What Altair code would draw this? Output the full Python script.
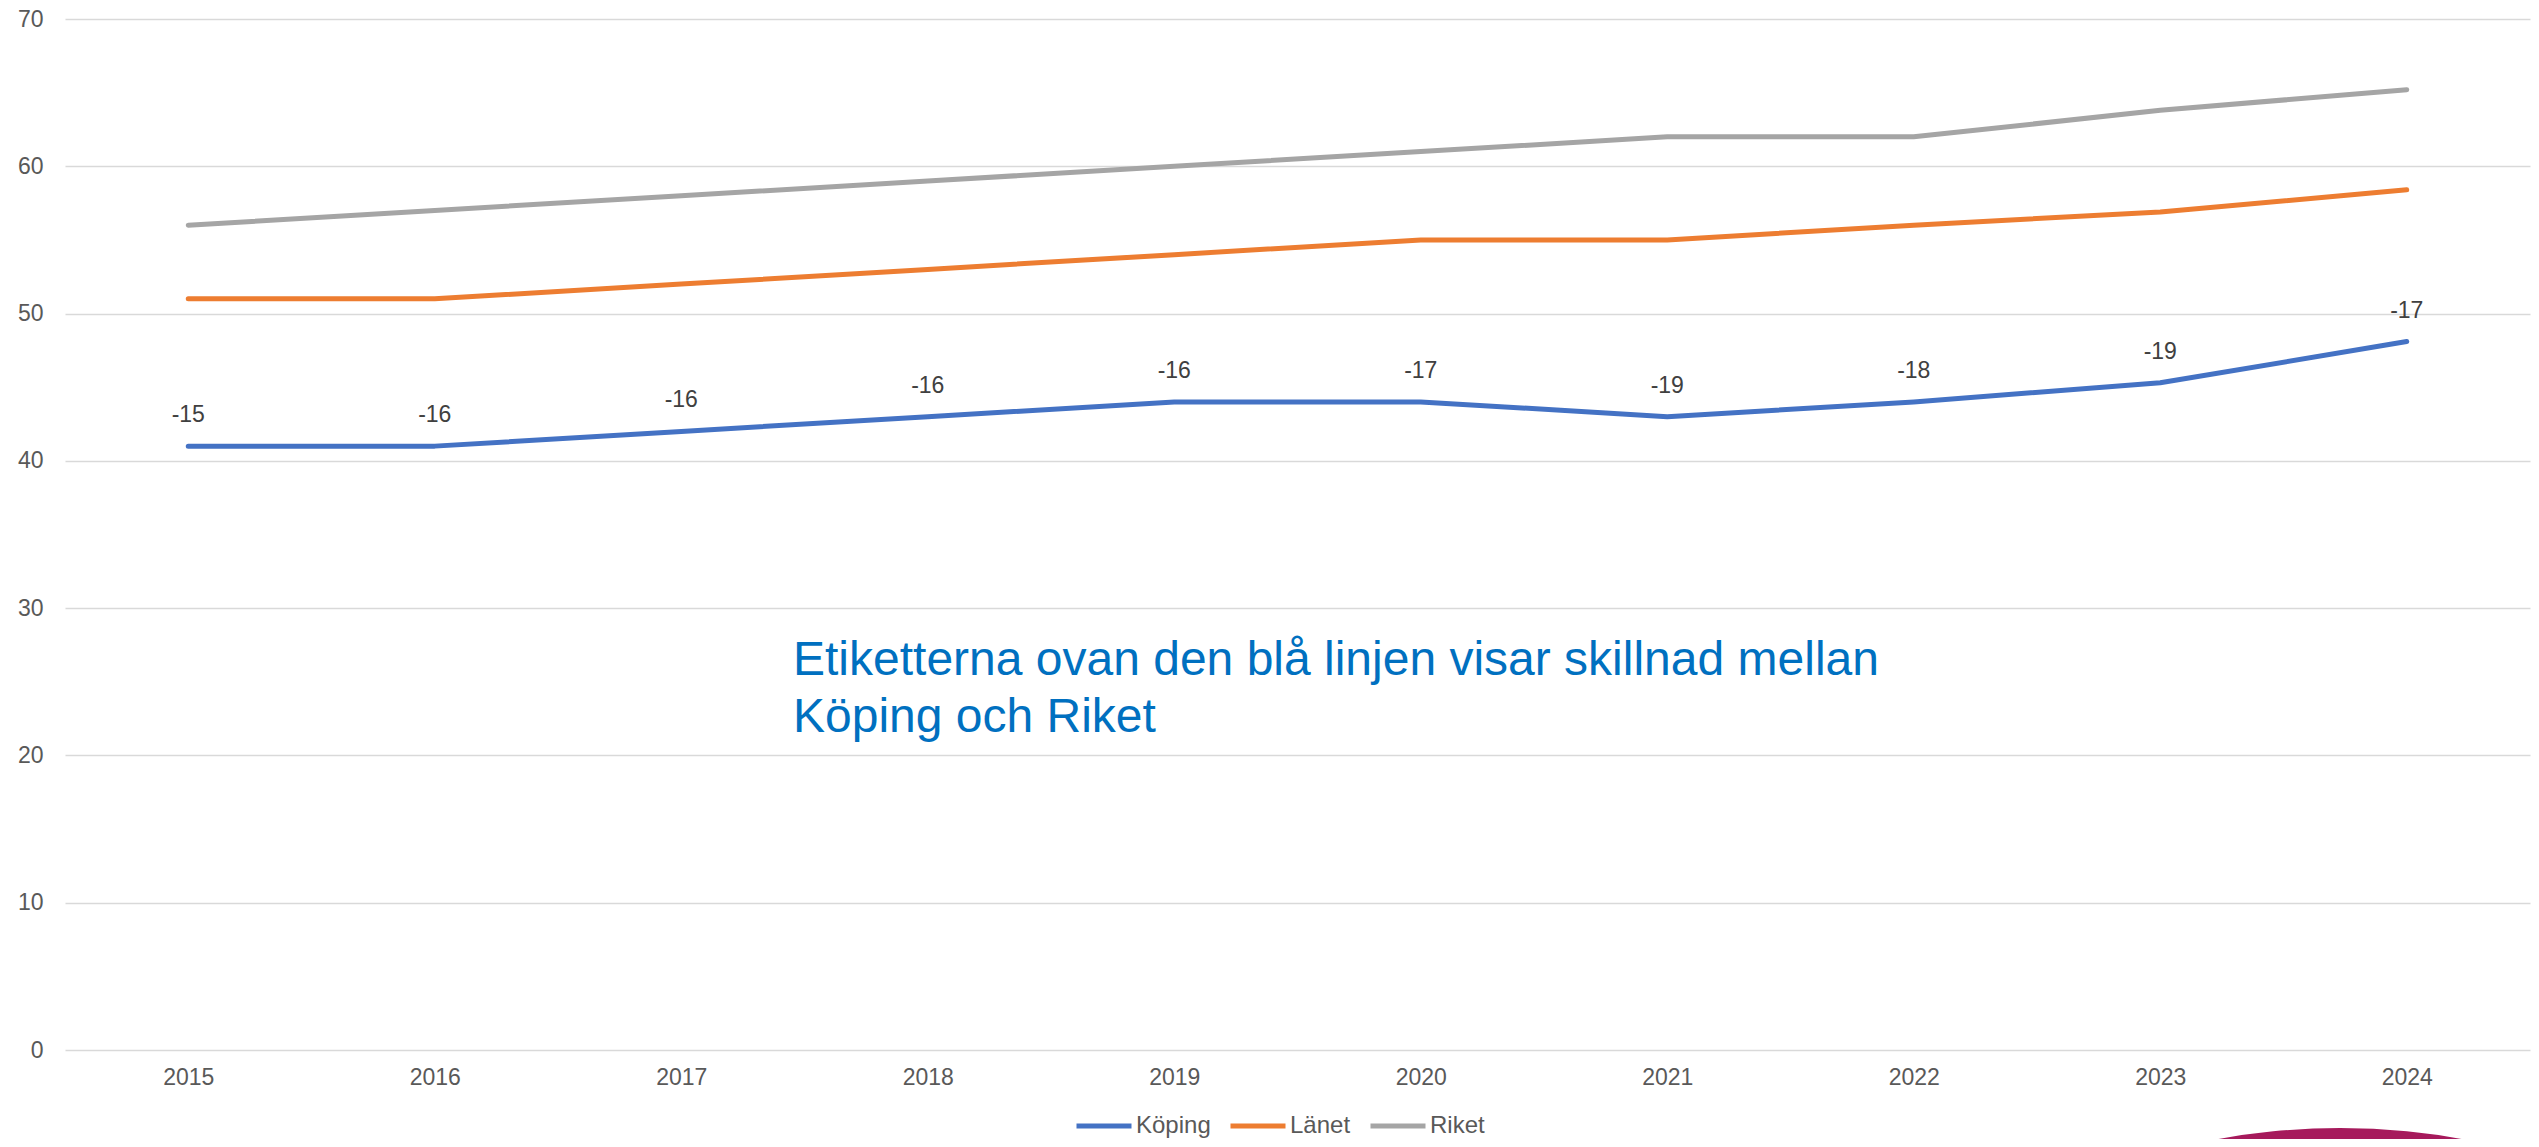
import altair as alt
import pandas as pd

years = ["2015", "2016", "2017", "2018", "2019", "2020", "2021", "2022", "2023", "2024"]
koping = [41, 41, 42, 43, 44, 44, 43, 44, 45.3, 48.1]
lanet = [51, 51, 52, 53, 54, 55, 55, 56, 56.9, 58.4]
riket = [56, 57, 58, 59, 60, 61, 62, 62, 63.8, 65.2]
diff_labels = ["-15", "-16", "-16", "-16", "-16", "-17", "-19", "-18", "-19", "-17"]
series_names = ["Köping", "Länet", "Riket"]
series_colors = ["#4472C4", "#ED7D31", "#A5A5A5"]
y_ticks = [0, 10, 20, 30, 40, 50, 60, 70]
annotation_lines = ["Etiketterna ovan den blå linjen visar skillnad mellan", "Köping och Riket"]

FONT = "Liberation Sans"

rows = []
for name, vals in zip(series_names, [koping, lanet, riket]):
    for y, v in zip(years, vals):
        rows.append({"year": y, "serie": name, "value": v})
df = pd.DataFrame(rows)
lab_df = pd.DataFrame({"year": years, "value": koping, "label": diff_labels})

x_enc = alt.X(
    "year:O",
    sort=years,
    scale=alt.Scale(type="point", padding=0.5),
    axis=alt.Axis(title=None, labelAngle=0, ticks=False, domain=False,
                  labelPadding=16, labelFontSize=23, labelColor="#595959", labelFont=FONT),
)
y_enc = alt.Y(
    "value:Q",
    scale=alt.Scale(domain=[0, 70], nice=False, zero=True),
    axis=alt.Axis(title=None, values=y_ticks, ticks=False, domain=False, grid=True,
                  gridColor="#D9D9D9", gridWidth=1.5, labelPadding=22,
                  labelFontSize=23, labelColor="#595959", labelFont=FONT),
)

lines = alt.Chart(df).mark_line(strokeWidth=5, strokeCap="round", strokeJoin="round").encode(
    x=x_enc,
    y=y_enc,
    color=alt.Color(
        "serie:N",
        sort=series_names,
        scale=alt.Scale(domain=series_names, range=series_colors),
        legend=alt.Legend(
            title=None, orient="none", legendX=1009, legendY=1077, direction="horizontal",
            symbolType="stroke", symbolSize=3025, symbolStrokeWidth=5,
            labelFontSize=24, labelColor="#595959", labelFont=FONT,
            labelOffset=2, columnPadding=9, padding=0,
        ),
    ),
)

labels = alt.Chart(lab_df).mark_text(
    fontSize=23, color="#404040", dy=-31, baseline="middle", font=FONT
).encode(
    x=alt.X("year:O", sort=years),
    y=alt.Y("value:Q"),
    text="label:N",
)

annot = alt.Chart(pd.DataFrame({"a": [0]})).mark_text(
    text=annotation_lines, fontSize=48, color="#0070C0", font=FONT,
    align="left", baseline="alphabetic", lineHeight=57,
).encode(x=alt.value(728), y=alt.value(656))

logo = alt.Chart(pd.DataFrame({"a": [0]})).mark_point(
    shape="circle", filled=True, color="#A61A5C", opacity=1, size=1860000
).encode(x=alt.value(2275), y=alt.value(1791))

chart = alt.layer(lines, labels, annot, logo).properties(
    width=2465,
    height=1031,
    padding={"left": 57, "top": 11, "right": 1, "bottom": 89},
    autosize=alt.AutoSizeParams(type="none"),
).configure_view(stroke=None)

chart.save("out.html", embed_options={"renderer": "svg", "actions": False})
